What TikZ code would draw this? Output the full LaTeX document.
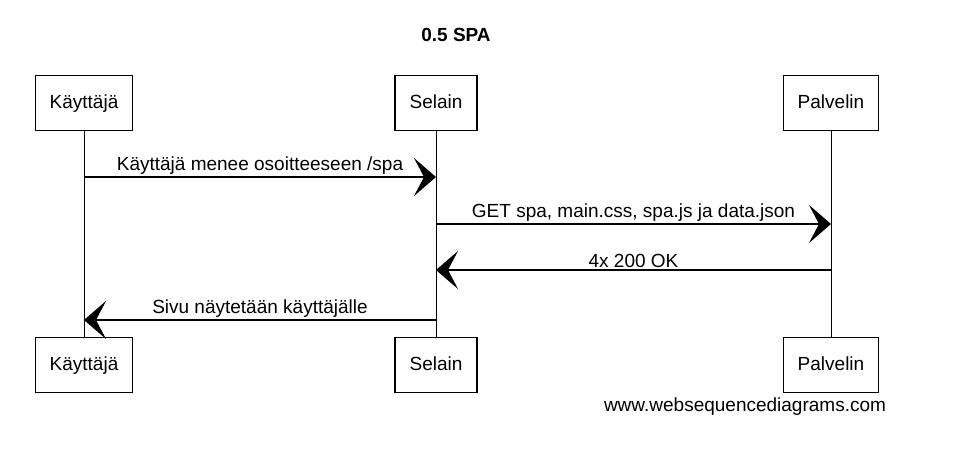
\documentclass[tikz,border=0pt]{standalone}
\usepackage{fontspec}
\setmainfont{Liberation Sans}
\usetikzlibrary{arrows.meta}

\begin{document}
\begin{tikzpicture}[x=1pt, y=-1pt, every node/.style={font=\fontsize{19}{22}\selectfont},
		actor/.style={draw, line width=1.2pt, rectangle, inner xsep=14.5pt, inner ysep=0pt,
			text height=14pt, text depth=4pt, minimum height=55pt},
		lifeline/.style={line width=1pt},
		msg/.style={line width=1.6pt, -{Stealth[length=22pt, width=38pt, inset=10pt]}},
		msglabel/.style={above, inner sep=2pt}]
				\useasboundingbox (0,0) rectangle (958,450);

				% Title
				\node[font=\fontsize{19}{22}\selectfont\bfseries] (title) at (456,35) {0.5 SPA};

				% Actors
				\node[actor] (kayttajaT) at (84,103) {Käyttäjä};
				\node[actor] (selainT) at (436,103) {Selain};
				\node[actor] (palvelinT) at (831,103) {Palvelin};
				\node[actor] (kayttajaB) at (84,365) {Käyttäjä};
				\node[actor] (selainB) at (436,365) {Selain};
				\node[actor] (palvelinB) at (831,365) {Palvelin};

				% Lifelines
				\draw[lifeline] (kayttajaT) -- (kayttajaB);
				\draw[lifeline] (selainT) -- (selainB);
				\draw[lifeline] (palvelinT) -- (palvelinB);

				% Message ends
				\coordinate (k1) at (84,177);
				\coordinate (s1) at (436,177);
				\coordinate (s2) at (436,224);
				\coordinate (p2) at (831,224);
				\coordinate (p3) at (831,270);
				\coordinate (s3) at (436,270);
				\coordinate (s4) at (436,320);
				\coordinate (k4) at (84,320);

				% Messages
				\draw[msg] (k1) -- node[msglabel] (m1) {Käyttäjä menee osoitteeseen /spa} (s1);
				\draw[msg] (s2) -- node[msglabel] (m2) {GET spa, main.css, spa.js ja data.json} (p2);
				\draw[msg] (p3) -- node[msglabel] (m3) {4x 200 OK} (s3);
				\draw[msg] (s4) -- node[msglabel] (m4) {Sivu näytetään käyttäjälle} (k4);

				% Footer
				\node (footer) at (745,407) {www.websequencediagrams.com};
			\end{tikzpicture}
\end{document}
